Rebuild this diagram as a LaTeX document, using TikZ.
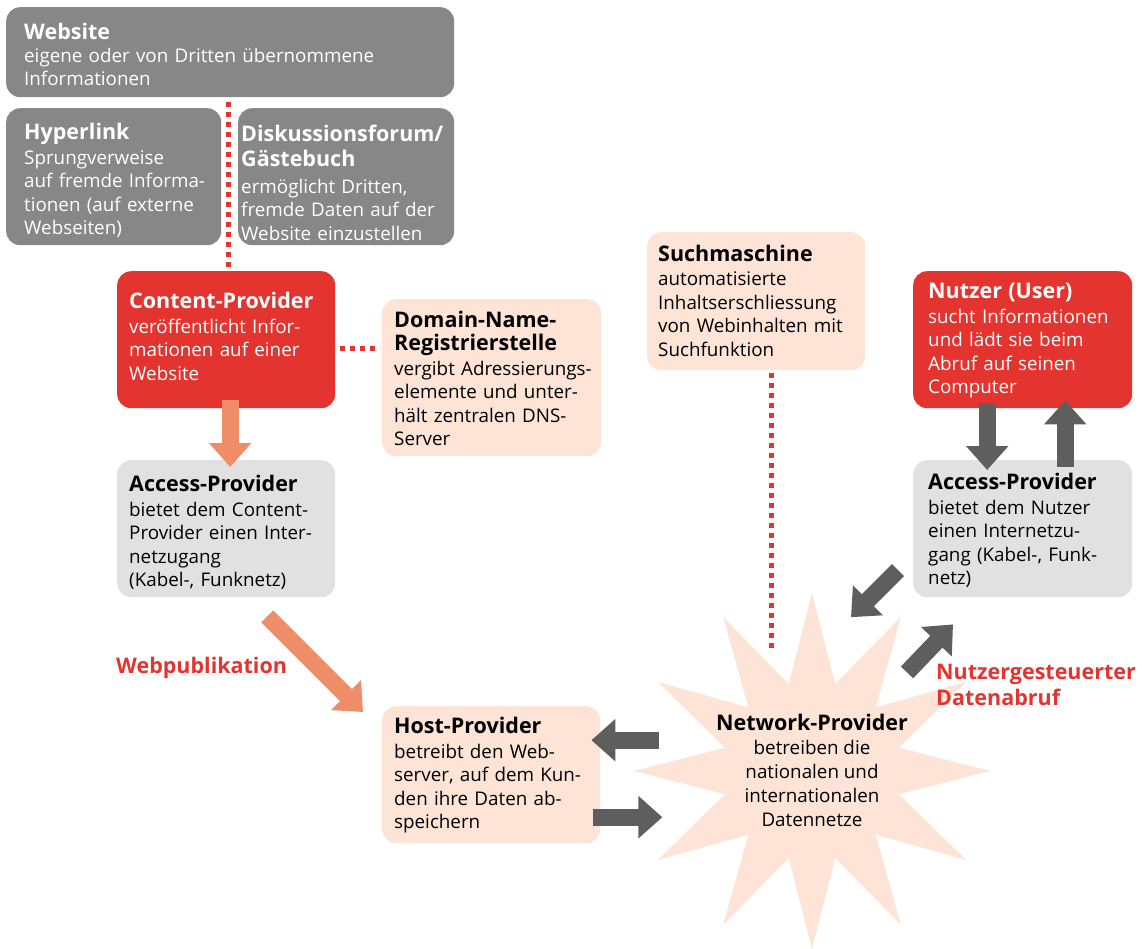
\documentclass[tikz,border=0pt]{standalone}
\usepackage{fontspec}
\setmainfont{Open Sans}
\usetikzlibrary{arrows.meta,calc}

\definecolor{boxgray}{HTML}{878787}
\definecolor{lightgray}{HTML}{E1E1E1}
\definecolor{cpred}{HTML}{E3342F}
\definecolor{peach}{HTML}{FDE4D6}
\definecolor{orangearr}{HTML}{F08D69}
\definecolor{darkarr}{HTML}{5E5E5E}

\newcommand{\ttl}[1]{{\fontsize{21.5}{24}\selectfont\bfseries #1}}
% text lines of a box, optional arg lowers the block
\newcommand{\lines}[2][0pt]{\begin{tabular}{@{}l@{}}#2\\[-#1]\end{tabular}}

\tikzset{
  box/.style={anchor=north west, rounded corners=14pt, align=left,
    inner xsep=12pt, inner ysep=0pt, text width=194pt,
    minimum height=137pt, font=\fontsize{18.8}{23.5}\selectfont},
  graybox/.style={box, fill=boxgray, text=white},
  redbox/.style={box, fill=cpred, text=white},
  peachbox/.style={box, fill=peach, text=black},
  lightbox/.style={box, fill=lightgray, text=black},
  dotline/.style={draw=cpred, line width=5pt, dash pattern=on 5pt off 5pt},
  bigarrow/.style={line width=17pt, -{Triangle[width=41pt,length=24pt]}},
  redlabel/.style={text=cpred, font=\fontsize{21.5}{26}\selectfont\bfseries, inner sep=0pt}
}

\begin{document}
\begin{tikzpicture}[x=1pt, y=-1pt]
  \useasboundingbox (0,0) rectangle (1147,948);

  % star of the network provider
  \fill[peach, shift={(812,771)}] (0:178)
    \foreach \i in {1,...,12} { -- (\i*30-15:90) -- (\i*30:178) } -- cycle;

  % boxes
  \node[graybox, inner xsep=18pt, text width=412pt, minimum height=90pt] (web) at (6,7)
    {\lines[12pt]{\ttl{Website}\\[-1pt]eigene oder von Dritten übernommene\\Informationen}};
  \node[graybox, inner xsep=18pt, text width=179pt] (hyper) at (6,108)
    {\lines[12pt]{\ttl{Hyperlink}\\[1pt]Sprungverweise\\auf fremde Informa-\\tionen (auf externe\\Webseiten)}};
  \node[graybox, inner xsep=3pt, text width=210pt] (forum) at (238,108)
    {\lines[19pt]{\ttl{Diskussionsforum/}\\[2pt]\ttl{Gästebuch}\\[3pt]ermöglicht Dritten,\\fremde Daten auf der\\Website einzustellen}};
  \node[redbox] (cp) at (117,271)
    {\lines{\ttl{Content-Provider}\\[1pt]veröffentlicht Infor-\\mationen auf einer\\Website}};
  \node[peachbox, text width=195pt, minimum height=157pt] (dns) at (382,299)
    {\lines[8pt]{\ttl{Domain-Name-}\\\ttl{Registrierstelle}\\[1pt]vergibt Adressierungs-\\elemente und unter-\\hält zentralen DNS-\\Server}};
  \node[lightbox] (acl) at (117,460)
    {\lines[12pt]{\ttl{Access-Provider}\\[1pt]bietet dem Content-\\Provider einen Inter-\\netzugang\\(Kabel-, Funknetz)}};
  \node[peachbox] (host) at (382,706)
    {\lines[4pt]{\ttl{Host-Provider}\\[1pt]betreibt den Web-\\server, auf dem Kun-\\den ihre Daten ab-\\speichern}};
  \node[peachbox, inner xsep=11pt, text width=196pt, minimum height=138pt] (such) at (647,232)
    {\lines[6pt]{\ttl{Suchmaschine}\\[1pt]automatisierte\\Inhaltserschliessung\\von Webinhalten mit\\Suchfunktion}};
  \node[redbox, inner xsep=15pt, text width=189pt] (user) at (913,271)
    {\lines[4pt]{\ttl{Nutzer (User)}\\[1pt]sucht Informationen\\und lädt sie beim\\Abruf auf seinen\\Computer}};
  \node[lightbox, inner xsep=15pt, text width=189pt] (acr) at (913,460)
    {\lines[8pt]{\ttl{Access-Provider}\\[1pt]bietet dem Nutzer\\einen Internetzu-\\gang (Kabel-, Funk-\\netz)}};
  \node[align=center, inner sep=0pt, font=\fontsize{18.8}{24}\selectfont] (net) at (812,770)
    {\ttl{Network-Provider}\\betreiben die\\nationalen und\\internationalen\\Datennetze};

  % labels
  \node[redlabel, anchor=west] (pub) at (116,668) {Webpublikation};
  \node[redlabel, anchor=north west, align=left] (abruf) at (936,664)
    {Nutzergesteuerter\\Datenabruf};

  % dotted links
  \draw[dotline] ($(web.south)+(-2,5)$) -- ($(cp.north)+(2,-3)$);
  \draw[dotline] ($(cp.east)+(5,9)$) -- ($(cp.east)+(45,9)$);
  \draw[dotline] ($(such.south)+(15,3)$) coordinate (s0) -- ($(such.south)+(15,280)$) coordinate (s1);

  % arrows
  \draw[bigarrow, orangearr] ($(cp.south)+(4,-8)$) -- ($(acl.north)+(4,7)$);
  \draw[bigarrow, orangearr] ($(acl.south)+(41,19)$) -- ($(host.north west)+(-19,6)$);
  \draw[bigarrow, darkarr] ($(host.east)+(59,-34.5)$) -- ($(host.east)+(-9,-34.5)$);
  \draw[bigarrow, darkarr] ($(host.east)+(-7,42.5)$) -- ($(host.east)+(62,42.5)$);
  \draw[bigarrow, darkarr] ($(user.south)+(-35.5,-5)$) -- ($(acr.north)+(-35.5,10)$);
  \draw[bigarrow, darkarr] ($(acr.north)+(42.5,7)$) -- ($(user.south)+(42.5,-8)$);
  \draw[bigarrow, darkarr] ($(acr.west)+(-15,41.5)$) -- ($(acr.west)+(-62,88.5)$);
  \draw[bigarrow, darkarr] ($(acr.south west)+(-6,75)$) -- ($(acr.south west)+(40,27)$);
\end{tikzpicture}
\end{document}
